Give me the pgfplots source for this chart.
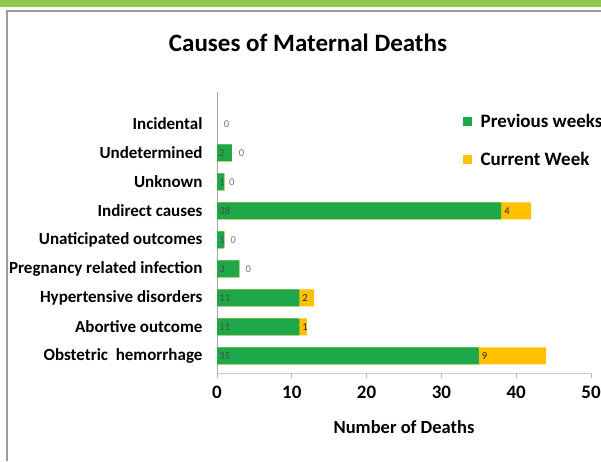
\documentclass[border=0pt]{standalone}
\usepackage{pgfplots}
\pgfplotsset{compat=1.18}
\usepackage{pgfplotstable}
\usepackage{fontspec}
\setmainfont{Carlito}

\definecolor{prevgreen}{HTML}{1FA84A}
\definecolor{curyellow}{HTML}{FFC000}
\definecolor{band}{HTML}{92C850}
\definecolor{framegray}{HTML}{9C9C9C}

% y: 0 = Obstetric hemorrhage ... 8 = Incidental
\pgfplotstableread{
y prev cur total
0 35 9 44
1 11 1 12
2 11 2 13
3 3 0 3
4 1 0 1
5 38 4 42
6 1 0 1
7 2 0 2
8 0 0 0
}\deaths

\pgfplotstableread{
x y l
0.3 0 35
0.3 1 11
0.3 2 11
0.3 3 3
0.3 4 1
0.3 5 38
0.3 6 1
0.3 7 2
}\prevlabels

\pgfplotstableread{
x y l
35.4 0 9
11.4 1 1
11.4 2 2
38.4 5 4
}\curlabels

\pgfplotstableread{
x y l
3.8 3 0
1.8 4 0
1.6 6 0
2.9 7 0
0.9 8 0
}\zerolabels

\begin{document}
\begin{tikzpicture}
\path[use as bounding box] (0,0) rectangle (601pt,-461pt);
\fill[band] (0,0) rectangle (601pt,-7pt);
\draw[framegray, line width=2pt] (7pt,-461pt) -- (7pt,-10.5pt) -- (601pt,-10.5pt);
\node[font=\bfseries\fontsize{25}{25}\selectfont] at (308pt,-43pt) {Causes of Maternal Deaths};
\begin{axis}[
  at={(217pt,-373pt)}, anchor=south west,
  scale only axis, width=374pt, height=281pt,
  xmin=0, xmax=50, ymin=-0.59, ymax=9.1,
  axis x line*=bottom, axis y line*=left,
  x axis line style={draw=red!15!gray!40, line width=0.8pt},
  y axis line style={draw=gray!70, line width=0.8pt},
  xtick={0,10,...,50},
  xtick style={draw=gray!60, line width=0.8pt},
  tick align=outside, major tick length=5pt,
  ytick={0,...,8},
  ytick style={draw=none},
  yticklabels={Obstetric\ \ hemorrhage, Abortive outcome, Hypertensive disorders,
    Pregnancy related infection, Unaticipated outcomes, Indirect causes,
    Unknown, Undetermined, Incidental},
  /pgf/number format/assume math mode=true,
  ticklabel style={font=\bfseries\fontsize{17}{17}\selectfont},
  xticklabel style={font=\bfseries\fontsize{19}{19}\selectfont, yshift=-4pt},
  yticklabel style={xshift=-6pt},
  xlabel={Number of Deaths},
  xlabel style={font=\bfseries\fontsize{18.5}{18.5}\selectfont, yshift=-16pt},
  clip=false,
  legend style={at={(0.658,0.93)}, anchor=north west, draw=none, fill=none,
    font=\bfseries\fontsize{19}{19}\selectfont, row sep=19pt, column sep=7pt,
    inner sep=0pt},
  legend cell align=left,
  legend image code/.code={\fill[#1] (0pt,-4pt) rectangle (8pt,4pt);},
]
\addlegendimage{prevgreen}
\addlegendentry{Previous weeks}
\addlegendimage{curyellow}
\addlegendentry{Current Week}

\addplot[forget plot, xbar, bar width=17pt, bar shift=0pt, fill=curyellow, draw=none]
  table[x=total, y=y] {\deaths};
\addplot[forget plot, xbar, bar width=17pt, bar shift=0pt, fill=prevgreen, draw=none]
  table[x=prev, y=y] {\deaths};

\addplot[forget plot, draw=none, mark=none, nodes near coords,
  nodes near coords align=horizontal, point meta=explicit symbolic,
  every node near coord/.append style={font=\fontsize{10.5}{10.5}\selectfont,
    text=black!70, inner sep=0pt, anchor=west}]
  table[x=x, y=y, meta=l] {\prevlabels};
\addplot[forget plot, draw=none, mark=none, nodes near coords,
  nodes near coords align=horizontal, point meta=explicit symbolic,
  every node near coord/.append style={font=\fontsize{10.5}{10.5}\selectfont,
    text=black!85, inner sep=0pt, anchor=west}]
  table[x=x, y=y, meta=l] {\curlabels};
\addplot[forget plot, draw=none, mark=none, nodes near coords,
  nodes near coords align=horizontal, point meta=explicit symbolic,
  every node near coord/.append style={font=\fontsize{10.5}{10.5}\selectfont,
    text=black!55, inner sep=0pt, anchor=west}]
  table[x=x, y=y, meta=l] {\zerolabels};
\end{axis}
\end{tikzpicture}
\end{document}
